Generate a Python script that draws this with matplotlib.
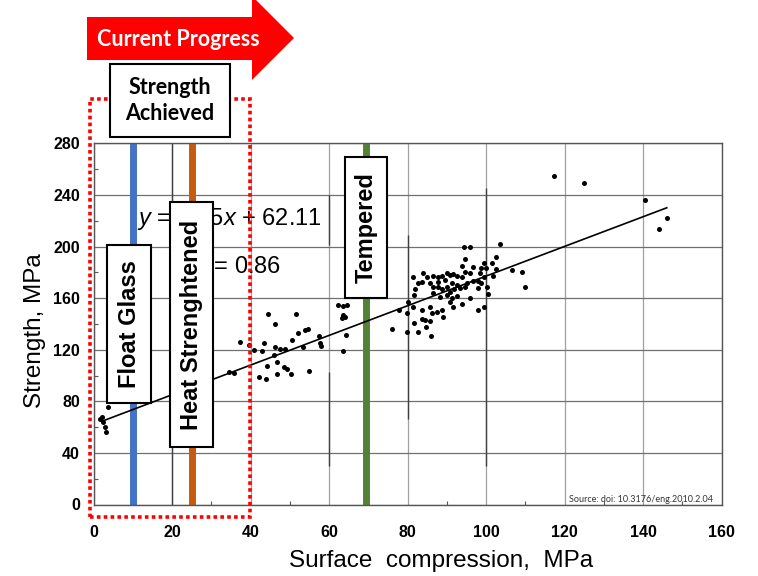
import matplotlib
matplotlib.use('Agg')
import matplotlib.pyplot as plt
from matplotlib.patches import Rectangle, Polygon

plt.rcParams['font.family'] = ['Liberation Sans', 'DejaVu Sans']
plt.rcParams['mathtext.fontset'] = 'custom'
plt.rcParams['mathtext.rm'] = 'Liberation Sans'
plt.rcParams['mathtext.it'] = 'Liberation Sans:italic'

# scatter data: surface compression (MPa) vs strength (MPa)
surface_compression = [
    3.7, 2.0, 2.4, 2.9, 3.1, 1.6,
    34.5, 35.8, 37.3, 39.5, 40.8, 42.8, 43.5, 46.2, 47.5, 48.7, 46.0, 50.6, 52.0, 53.8,
    54.6, 53.2, 57.5, 57.8, 57.7, 46.7, 49.2, 48.6, 44.1, 42.0, 44.0, 46.6, 50.3, 54.9,
    44.5, 51.5, 46.1,
    62.2, 63.4, 64.5, 63.6, 64.0, 63.2, 64.2, 63.6,
    94.4, 95.9, 103.6, 102.6, 94.7, 99.4, 101.6, 93.8, 96.7, 98.8, 100.0, 102.5, 106.7, 109.0,
    81.4, 84.0, 84.8, 86.5, 87.6, 88.7, 90.0, 90.8, 91.6, 92.5, 93.8, 94.7, 95.9, 98.4, 99.4, 101.8,
    82.7, 83.6, 85.7, 87.6, 89.5, 91.2, 92.5, 95.0, 96.7, 98.0, 98.8,
    81.9, 86.5, 87.8, 88.7, 90.0, 90.8, 91.9, 93.3, 94.6, 98.0, 100.1, 109.9,
    81.7, 86.5, 88.2, 90.0, 91.2, 92.5, 95.9, 100.5,
    80.2, 81.4, 83.6, 85.7, 86.1, 87.4, 88.7, 89.1, 90.8, 91.6, 93.8, 98.0, 99.4, 77.8,
    79.7, 81.7, 83.6, 84.4, 85.7, 84.6, 76.1, 79.7, 82.7, 85.9,
    117.3, 125.0, 140.5, 146.0, 144.1,
]
strength = [
    75.5, 68.0, 64.0, 60.0, 56.0, 66.0,
    103.0, 101.7, 125.7, 123.7, 119.5, 119.3, 125.0, 122.4, 120.3, 120.3, 115.9, 127.3, 132.7, 135.3,
    135.8, 121.8, 130.9, 122.8, 125.0, 110.5, 105.0, 106.6, 107.5, 98.5, 97.2, 101.4, 101.2, 103.7,
    147.5, 147.5, 139.7,
    154.7, 153.9, 154.7, 146.9, 145.6, 144.3, 131.4, 119.3,
    199.3, 199.3, 201.9, 192.1, 190.0, 187.5, 187.5, 184.9, 183.8, 183.1, 183.1, 182.3, 181.8, 180.5,
    176.6, 179.7, 176.6, 177.4, 176.6, 177.4, 179.7, 177.9, 178.7, 177.1, 176.6, 180.5, 179.2, 179.7, 176.6, 177.4,
    171.4, 172.7, 171.4, 172.7, 174.0, 171.4, 170.1, 171.4, 173.5, 173.5, 171.4,
    166.8, 168.8, 168.8, 166.8, 168.3, 165.0, 166.8, 167.6, 168.8, 167.6, 168.8, 168.3,
    162.4, 163.7, 161.1, 162.4, 159.8, 161.6, 159.8, 163.2,
    157.2, 153.3, 150.8, 153.3, 148.7, 149.5, 150.8, 145.6, 157.2, 153.3, 155.4, 150.8, 152.9, 150.8,
    148.2, 140.5, 143.6, 143.0, 142.5, 137.8, 136.0, 134.0, 133.5, 130.9,
    254.6, 249.5, 235.8, 222.3, 213.3,
]

# trend line from the equation on the chart
fit_slope = 1.15
fit_intercept = 62.11
fit_x = [2, 146]

# glass types marked on the compression axis
glass_types = ['Float Glass', 'Heat Strenghtened', 'Tempered']
glass_compression = [10, 25, 69.5]
glass_colors = ['#4472C4', '#C55A11', '#548235']

# dark vertical strokes in the source scan
seg_x = [20, 60, 60, 80, 100]
seg_low = [0, 201, 30, 66, 30]
seg_high = [280, 240, 103, 209, 245]

x_ticks = list(range(0, 161, 20))
y_ticks = list(range(0, 281, 40))

W, H = 758, 576
fig = plt.figure(figsize=(W / 100, H / 100), dpi=100)


def fx(px):
    return px / W


def fy(py):
    return 1 - py / H


ax = fig.add_axes([fx(93.7), fy(504.5), fx(721.7) - fx(93.7), fy(143.3) - fy(504.5)])
ax.set_xlim(0, 160)
ax.set_ylim(0, 280)
ax.set_xticks(x_ticks)
ax.set_yticks(y_ticks)
ax.set_xticks(range(10, 160, 20), minor=True)
ax.set_yticks(range(20, 280, 40), minor=True)
ax.set_axisbelow(True)
ax.grid(axis='y', which='major', color='#707070', lw=0.9)
ax.grid(axis='x', which='major', color='#a0a0a0', lw=0.9)
ax.tick_params(which='major', length=0, labelsize=11.5)
ax.tick_params(axis='x', which='major', pad=15)
ax.tick_params(axis='y', which='major', pad=10)
ax.tick_params(which='minor', direction='in', length=3, width=0.8, color='#555555')
plt.setp(ax.get_xticklabels() + ax.get_yticklabels(), fontweight='bold')
for sp in ax.spines.values():
    sp.set_color('#555555')
    sp.set_linewidth(1.0)

ax.vlines(seg_x, seg_low, seg_high, colors='#404040', lw=1.0, zorder=1.5)
ax.vlines(glass_compression, 0, 280, colors=glass_colors, lw=5, zorder=2)
ax.scatter(surface_compression, strength, s=13, c='black', linewidths=0, zorder=3)
ax.plot(fit_x, [fit_intercept + fit_slope * v for v in fit_x], color='black', lw=1.2, zorder=3)

# equation of the fit (partly covered by the label boxes)
fig.text(fx(137), fy(219), r'$y$ = 1.15$x$ + 62.11', fontsize=17, ha='left', va='center', zorder=3)
fig.text(fx(180), fy(266), r'R$^2$ = 0.86', fontsize=17, ha='left', va='center', zorder=3)

# label boxes on the coloured bars
label_boxes = [(107, 245, 151, 403), (170, 202, 213, 447), (345, 157, 387, 298)]
for name, (x0, y0, x1, y1) in zip(glass_types, label_boxes):
    fig.add_artist(Rectangle((fx(x0), fy(y1)), fx(x1) - fx(x0), fy(y0) - fy(y1),
                             transform=fig.transFigure, fc='white', ec='black', lw=1.5, zorder=4))
    fig.text(fx((x0 + x1) / 2), fy((y0 + y1) / 2), name, rotation=90, fontsize=17,
             fontweight='bold', ha='center', va='center', zorder=5)

# red dotted region
fig.add_artist(Rectangle((fx(90), fy(517)), fx(250) - fx(90), fy(99) - fy(517),
                         transform=fig.transFigure, fill=False, ec='#FF0000', lw=2.6,
                         linestyle=(0, (1, 0.9)), zorder=6))

# "Strength Achieved" box
fig.add_artist(Rectangle((fx(110), fy(137)), fx(230) - fx(110), fy(64) - fy(137),
                         transform=fig.transFigure, fc='white', ec='black', lw=1.5, zorder=7))
fig.text(fx(170), fy(88), 'Strength', family='Lato', fontweight='bold', fontsize=15.5,
         ha='center', va='center', zorder=8)
fig.text(fx(170), fy(114), 'Achieved', family='Lato', fontweight='bold', fontsize=15.5,
         ha='center', va='center', zorder=8)

# red arrow
arrow_px = [(87, 17), (252, 17), (252, -4), (294, 38), (252, 80), (252, 60), (87, 60)]
fig.add_artist(Polygon([(fx(a), fy(b)) for a, b in arrow_px], closed=True,
                       transform=fig.transFigure, fc='#FF0000', ec='none', zorder=7))
fig.text(fx(178), fy(39), 'Current Progress', family='Lato', fontweight='bold', fontsize=15.5,
         color='white', ha='center', va='center', zorder=8)

fig.text(fx(713), fy(499), 'Source: doi: 10.3176/eng.2010.2.04', family='Lato', fontsize=6.5,
         color='#333333', ha='right', va='center', zorder=3)

fig.text(fx(441), fy(561), 'Surface  compression,  MPa', fontsize=17.5, ha='center', va='center')
fig.text(fx(35), fy(331), 'Strength, MPa', fontsize=17.5, rotation=90, ha='center', va='center')

fig.savefig('out.png', dpi=100)
